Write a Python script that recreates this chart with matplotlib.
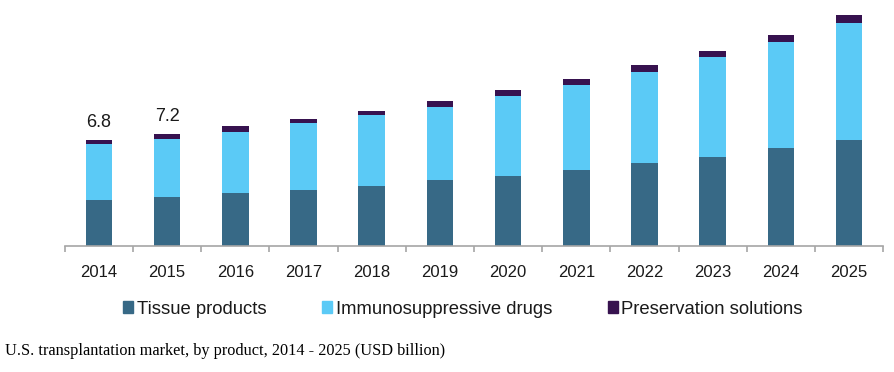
import numpy as np
import matplotlib
matplotlib.use('Agg')
import matplotlib.pyplot as plt
from matplotlib.patches import Patch

years = ['2014', '2015', '2016', '2017', '2018', '2019',
         '2020', '2021', '2022', '2023', '2024', '2025']
tissue = [2.96, 3.13, 3.39, 3.58, 3.86, 4.20, 4.48, 4.85, 5.30, 5.72, 6.26, 6.79]
immuno = [3.56, 3.73, 3.92, 4.29, 4.52, 4.71, 5.16, 5.50, 5.85, 6.41, 6.85, 7.54]
preserv = [0.28, 0.34, 0.39, 0.26, 0.28, 0.37, 0.37, 0.37, 0.47, 0.37, 0.45, 0.49]
totals_shown = {0: '6.8', 1: '7.2'}

c_tissue = '#376986'
c_immuno = '#5bcaf6'
c_preserv = '#37124f'
grey = '#a6a6a6'

plt.rcParams['font.family'] = ['Liberation Sans', 'DejaVu Sans']

fig = plt.figure(figsize=(8.94, 3.72), dpi=100)
ax = fig.add_axes([64.7 / 894, 126.3 / 372, 818.6 / 894, 245.7 / 372])

x = np.arange(len(years))
w = 0.39
tissue = np.array(tissue)
immuno = np.array(immuno)
preserv = np.array(preserv)
ax.bar(x, tissue, w, color=c_tissue)
ax.bar(x, immuno, w, bottom=tissue, color=c_immuno)
ax.bar(x, preserv, w, bottom=tissue + immuno, color=c_preserv)

for i, lab in totals_shown.items():
    top = tissue[i] + immuno[i] + preserv[i]
    ax.annotate(lab, (x[i], top), xytext=(0, 6.5), textcoords='offset points',
                ha='center', va='bottom', fontsize=13, color='#1a1a1a')

ax.set_xlim(-0.5, len(years) - 0.5)
ax.set_ylim(0, 245.7 / 15.56)

for s in ['top', 'right', 'left']:
    ax.spines[s].set_visible(False)
ax.spines['bottom'].set_color(grey)
ax.spines['bottom'].set_linewidth(1.2)
ax.set_yticks([])

ax.set_xticks(np.arange(len(years) + 1) - 0.5)
ax.set_xticklabels([])
ax.tick_params(axis='x', which='major', direction='out', length=4.5,
               width=1.2, color=grey)
ax.set_xticks(x, minor=True)
ax.set_xticklabels(years, minor=True, fontsize=12, color='#1a1a1a')
ax.tick_params(axis='x', which='minor', length=0, pad=14)

handles = [Patch(color=c_tissue, label='Tissue products'),
           Patch(color=c_immuno, label='Immunosuppressive drugs'),
           Patch(color=c_preserv, label='Preservation solutions')]
fig.legend(handles=handles, loc='center', bbox_to_anchor=(463 / 894, 1 - 309 / 372),
           ncol=3, frameon=False, fontsize=13.3, handlelength=0.55,
           handleheight=0.55, handletextpad=0.2, columnspacing=3.0,
           borderpad=0, labelcolor='#1a1a1a')

fig.text(5 / 894, 17 / 372,
         'U.S. transplantation market, by product, 2014 - 2025 (USD billion)',
         family=['Liberation Serif', 'DejaVu Serif'], fontsize=11.7,
         va='baseline', ha='left', color='black')

fig.savefig('out.png', dpi=100)
